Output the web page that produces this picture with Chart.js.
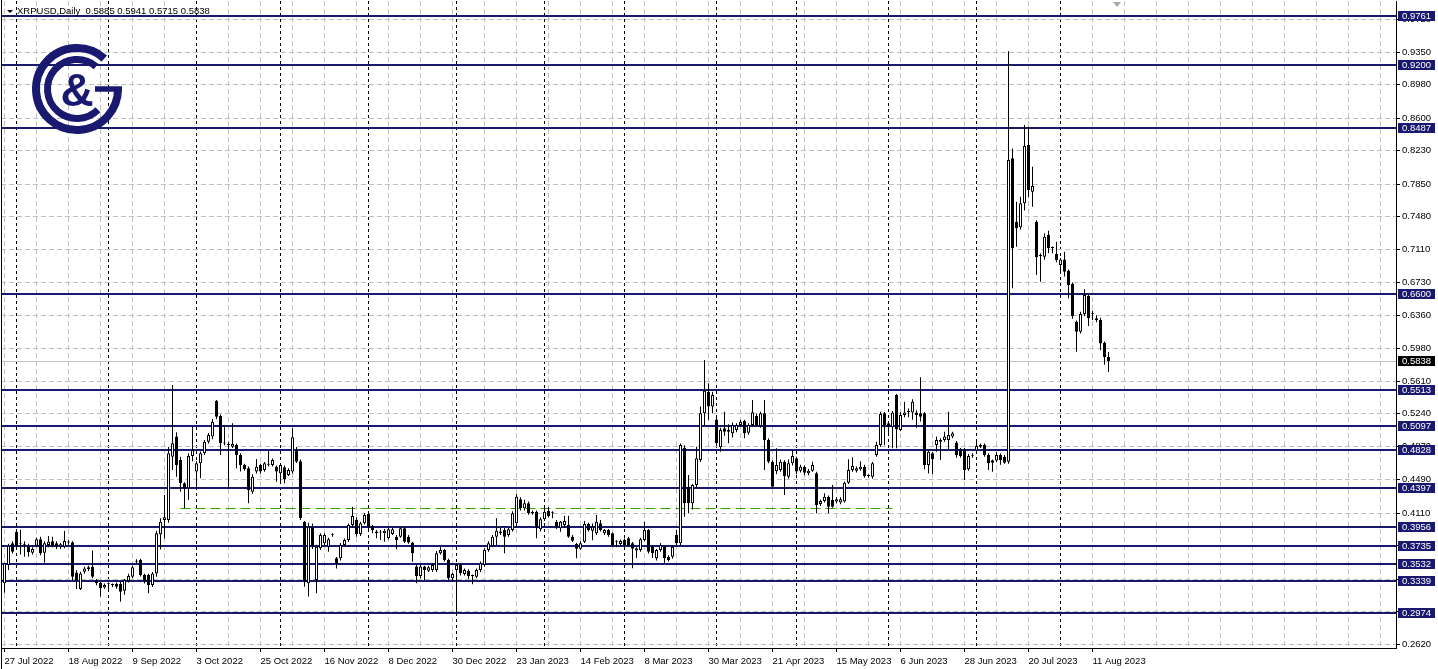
<!DOCTYPE html>
<html>
<head>
<meta charset="utf-8">
<script src="https://cdn.jsdelivr.net/npm/chart.js@4.4.0/dist/chart.umd.min.js"></script>
<style>
html,body{margin:0;padding:0;background:#fff;overflow:hidden}
#wrap{position:relative;width:1438px;height:669px;background:#fff}
</style>
</head>
<body>
<div id="wrap"><canvas id="c" width="1438" height="669"></canvas></div>
<script>
// ---------------- DATA ----------------
const symbolTitle = 'XRPUSD,Daily';
const firstBarDate = [2022, 6, 27]; // 27 Jul 2022 (daily bars, Mon-Fri)

const xTickLabels = ['27 Jul 2022','18 Aug 2022','9 Sep 2022','3 Oct 2022','25 Oct 2022','16 Nov 2022',
  '8 Dec 2022','30 Dec 2022','23 Jan 2023','14 Feb 2023','8 Mar 2023','30 Mar 2023','21 Apr 2023',
  '15 May 2023','6 Jun 2023','28 Jun 2023','20 Jul 2023','11 Aug 2023'];

const yTickValues = [0.2620,0.2990,0.3360,0.3740,0.4110,0.4490,0.4870,0.5240,0.5610,0.5980,
  0.6360,0.6730,0.7110,0.7480,0.7850,0.8230,0.8600,0.8980,0.9350,0.9720];

const levelValues = [0.9761,0.9200,0.8487,0.6600,0.5513,0.5097,0.4828,0.4397,0.3956,0.3735,0.3532,0.3339,0.2974];
const currentPrice = 0.5838;
const supportLevel = 0.4164;
const supportFromBar = 44;
const supportToBar = 222;

const opens = [
0.3311,0.3519,0.3766,0.3898,0.3760,0.3758,0.3739,0.3660,0.3739,0.3811,
0.3660,0.3747,0.3789,0.3766,0.3728,0.3728,0.3780,0.3777,0.3435,0.3246,
0.3443,0.3470,0.3500,0.3338,0.3319,0.3265,0.3300,0.3296,0.3304,0.3304,
0.3227,0.3338,0.3387,0.3560,0.3576,0.3406,0.3406,0.3292,0.3424,0.3870,
0.4031,0.4031,0.4751,0.4979,0.4713,0.4448,0.4391,0.4759,0.4581,0.4675,
0.4789,0.4922,0.4979,0.5388,0.5213,0.4910,0.4890,0.4865,0.4884,0.4770,
0.4656,0.4618,0.4353,0.4581,0.4656,0.4600,0.4664,0.4656,0.4637,0.4562,
0.4630,0.4543,0.4581,0.4827,0.4698,0.4012,0.3311,0.3955,0.3349,0.3709,
0.3766,0.3728,0.3862,0.3595,0.3595,0.3747,0.3803,0.3974,0.4031,0.3872,
0.3993,0.4100,0.3963,0.3900,0.3891,0.3880,0.3823,0.3872,0.3842,0.3842,
0.3937,0.3842,0.3774,0.3501,0.3395,0.3501,0.3455,0.3463,0.3463,0.3652,
0.3690,0.3576,0.3368,0.3463,0.3520,0.3417,0.3455,0.3395,0.3387,0.3463,
0.3520,0.3690,0.3736,0.3842,0.3880,0.3918,0.3861,0.3918,0.3993,0.4266,
0.4164,0.4221,0.4110,0.4126,0.3925,0.4039,0.4137,0.4110,0.4012,0.3936,
0.3974,0.3974,0.3842,0.3758,0.3705,0.3785,0.3986,0.3910,0.3880,0.3993,
0.3880,0.3917,0.3880,0.3785,0.3758,0.3804,0.3823,0.3766,0.3683,0.3690,
0.3804,0.3917,0.3728,0.3595,0.3690,0.3728,0.3614,0.3614,0.3860,0.3766,
0.4853,0.4410,0.4221,0.4429,0.4714,0.5244,0.5490,0.5320,0.5175,0.4857,
0.5073,0.5035,0.5016,0.5054,0.5111,0.5157,0.5024,0.5111,0.5214,0.5100,
0.5244,0.4941,0.4694,0.4586,0.4600,0.4694,0.4524,0.4675,0.4732,0.4592,
0.4637,0.4562,0.4592,0.4562,0.4213,0.4247,0.4296,0.4259,0.4240,0.4229,
0.4240,0.4455,0.4600,0.4592,0.4607,0.4637,0.4535,0.4524,0.4770,0.4884,
0.5244,0.5130,0.5085,0.5452,0.5054,0.5225,0.5263,0.5252,0.5252,0.5244,
0.5244,0.4656,0.4789,0.4884,0.4922,0.4941,0.4941,0.4979,0.4911,0.4834,
0.4834,0.4607,0.4759,0.4820,0.4865,0.4884,0.4770,0.4710,0.4707,0.4770,
0.4751,0.4694,0.8143,0.7423,0.7358,0.7631,0.8294,0.7764,0.7423,0.7037,
0.7025,0.7271,0.7128,0.7055,0.6930,0.6994,0.6865,0.6714,0.6286,0.6172,
0.6373,0.6578,0.6373,0.6324,0.6305,0.6047,0.5885];

const highs = [
0.3546,0.3760,0.3790,0.3917,0.3920,0.3790,0.3760,0.3720,0.3830,0.3840,
0.3790,0.3849,0.3841,0.3790,0.3770,0.3906,0.3800,0.3790,0.3460,0.3443,
0.3500,0.3510,0.3683,0.3360,0.3330,0.3310,0.3320,0.3310,0.3320,0.3330,
0.3360,0.3420,0.3510,0.3585,0.3590,0.3420,0.3420,0.3440,0.3910,0.4050,
0.4315,0.4860,0.5566,0.5030,0.4750,0.4460,0.4790,0.5092,0.4700,0.4810,
0.4940,0.5020,0.5180,0.5395,0.5230,0.5111,0.4920,0.5130,0.4900,0.4790,
0.4670,0.4640,0.4550,0.4725,0.4670,0.4690,0.4815,0.4730,0.4650,0.4670,
0.4650,0.4620,0.5073,0.4860,0.4720,0.4020,0.4000,0.3990,0.3750,0.3880,
0.3880,0.3830,0.3880,0.3610,0.3770,0.3820,0.3990,0.4183,0.4060,0.4010,
0.4110,0.4120,0.3975,0.3918,0.3918,0.3930,0.3940,0.3940,0.3860,0.3950,
0.3950,0.3860,0.3780,0.3520,0.3520,0.3510,0.3510,0.3540,0.3680,0.3736,
0.3700,0.3590,0.3430,0.3540,0.3530,0.3480,0.3470,0.3410,0.3480,0.3560,
0.3710,0.3790,0.3860,0.4050,0.3940,0.3940,0.3940,0.4130,0.4327,0.4290,
0.4260,0.4240,0.4140,0.4140,0.4060,0.4183,0.4180,0.4130,0.4030,0.4020,
0.4080,0.4080,0.3860,0.3770,0.3790,0.4020,0.4000,0.3990,0.4088,0.4030,
0.3930,0.3930,0.3890,0.3800,0.3810,0.3820,0.3840,0.3780,0.3720,0.3830,
0.4012,0.3930,0.3740,0.3700,0.3770,0.3740,0.3630,0.3740,0.3917,0.4900,
0.4880,0.4543,0.4440,0.4865,0.5320,0.5850,0.5585,0.5490,0.5200,0.5080,
0.5263,0.5120,0.5140,0.5130,0.5170,0.5170,0.5130,0.5396,0.5240,0.5263,
0.5396,0.4960,0.4710,0.4846,0.4720,0.4710,0.4720,0.4827,0.4750,0.4660,
0.4650,0.4610,0.4694,0.4580,0.4260,0.4334,0.4310,0.4429,0.4290,0.4290,
0.4470,0.4721,0.4744,0.4640,0.4700,0.4660,0.4550,0.4690,0.4920,0.5263,
0.5260,0.5150,0.5270,0.5464,0.5260,0.5376,0.5300,0.5403,0.5280,0.5653,
0.5260,0.4830,0.4800,0.4979,0.4960,0.5035,0.5263,0.5035,0.4930,0.4850,
0.4850,0.4780,0.4790,0.4922,0.4900,0.4900,0.4790,0.4720,0.4800,0.4790,
0.4770,0.9360,0.8256,0.7650,0.7707,0.8522,0.8503,0.8048,0.7440,0.7060,
0.7290,0.7320,0.7140,0.7195,0.7010,0.7082,0.6880,0.6730,0.6300,0.6400,
0.6653,0.6600,0.6410,0.6360,0.6330,0.6060,0.5941];

const lows = [
0.3205,0.3462,0.3650,0.3720,0.3640,0.3614,0.3614,0.3640,0.3720,0.3630,
0.3546,0.3720,0.3720,0.3700,0.3700,0.3710,0.3750,0.3350,0.3246,0.3235,
0.3420,0.3450,0.3370,0.3290,0.3160,0.3250,0.3216,0.3270,0.3250,0.3103,
0.3180,0.3320,0.3370,0.3530,0.3390,0.3310,0.3197,0.3270,0.3387,0.3697,
0.3822,0.4000,0.4600,0.4524,0.4353,0.4164,0.4258,0.4700,0.4391,0.4505,
0.4770,0.4900,0.4950,0.5180,0.4770,0.4880,0.4391,0.4850,0.4618,0.4581,
0.4590,0.4221,0.4330,0.4560,0.4560,0.4580,0.4640,0.4640,0.4467,0.4448,
0.4448,0.4530,0.4560,0.4680,0.4031,0.3273,0.3160,0.3700,0.3197,0.3690,
0.3740,0.3671,0.3840,0.3481,0.3570,0.3730,0.3780,0.3950,0.3840,0.3850,
0.3980,0.3930,0.3880,0.3823,0.3804,0.3785,0.3810,0.3860,0.3698,0.3830,
0.3770,0.3760,0.3557,0.3311,0.3370,0.3349,0.3440,0.3440,0.3440,0.3640,
0.3560,0.3349,0.3330,0.2962,0.3400,0.3400,0.3360,0.3300,0.3370,0.3440,
0.3500,0.3670,0.3720,0.3747,0.3860,0.3652,0.3840,0.3900,0.3950,0.4140,
0.4140,0.4090,0.4090,0.3823,0.3900,0.4020,0.4060,0.4050,0.3930,0.3898,
0.3950,0.3830,0.3780,0.3595,0.3690,0.3770,0.3900,0.3800,0.3860,0.3900,
0.3860,0.3840,0.3730,0.3720,0.3740,0.3730,0.3730,0.3482,0.3600,0.3670,
0.3790,0.3650,0.3600,0.3570,0.3670,0.3538,0.3560,0.3590,0.3740,0.3740,
0.4069,0.4107,0.4150,0.4400,0.4690,0.5100,0.5168,0.5244,0.4880,0.4808,
0.4990,0.4903,0.4970,0.5030,0.5090,0.4960,0.5000,0.5090,0.5090,0.5080,
0.4600,0.4675,0.4390,0.4550,0.4580,0.4315,0.4500,0.4650,0.4550,0.4570,
0.4540,0.4540,0.4580,0.4107,0.4190,0.4230,0.4107,0.4170,0.4220,0.4210,
0.4230,0.4440,0.4580,0.4570,0.4590,0.4510,0.4510,0.4500,0.4750,0.4865,
0.4880,0.4990,0.4846,0.4846,0.5040,0.5200,0.5200,0.5170,0.5080,0.5150,
0.4607,0.4560,0.4555,0.4808,0.4713,0.4920,0.4827,0.4960,0.4740,0.4740,
0.4486,0.4590,0.4740,0.4800,0.4850,0.4750,0.4600,0.4580,0.4690,0.4660,
0.4670,0.4670,0.6665,0.7139,0.7330,0.7550,0.7700,0.7593,0.6816,0.6740,
0.6990,0.7063,0.7063,0.6960,0.6835,0.6800,0.6551,0.6320,0.5945,0.6150,
0.6350,0.6237,0.6305,0.6280,0.5960,0.5795,0.5715];

const closes = [
0.3538,0.3739,0.3671,0.3739,0.3754,0.3750,0.3664,0.3700,0.3811,0.3652,
0.3766,0.3785,0.3743,0.3728,0.3754,0.3792,0.3775,0.3387,0.3349,0.3424,
0.3481,0.3493,0.3387,0.3311,0.3254,0.3292,0.3304,0.3292,0.3273,0.3216,
0.3349,0.3395,0.3493,0.3555,0.3406,0.3330,0.3292,0.3424,0.3880,0.4012,
0.4061,0.4789,0.4903,0.4656,0.4448,0.4391,0.4759,0.4827,0.4675,0.4789,
0.4922,0.4998,0.5149,0.5206,0.4903,0.4900,0.4884,0.4896,0.4770,0.4656,
0.4607,0.4372,0.4524,0.4637,0.4581,0.4675,0.4660,0.4713,0.4581,0.4656,
0.4493,0.4600,0.4971,0.4694,0.4050,0.3330,0.3955,0.3728,0.3728,0.3860,
0.3860,0.3811,0.3858,0.3538,0.3747,0.3803,0.3974,0.4076,0.3872,0.3993,
0.4088,0.3948,0.3918,0.3880,0.3888,0.3910,0.3925,0.3925,0.3804,0.3937,
0.3785,0.3774,0.3652,0.3395,0.3501,0.3463,0.3493,0.3520,0.3652,0.3690,
0.3576,0.3368,0.3417,0.3520,0.3425,0.3463,0.3395,0.3398,0.3463,0.3539,
0.3690,0.3766,0.3842,0.3910,0.3899,0.3842,0.3925,0.4107,0.4296,0.4164,
0.4221,0.4107,0.4125,0.3937,0.4039,0.4126,0.4077,0.4107,0.3955,0.4012,
0.4020,0.3842,0.3796,0.3705,0.3766,0.3986,0.3917,0.3955,0.4012,0.3917,
0.3917,0.3860,0.3747,0.3783,0.3792,0.3747,0.3747,0.3705,0.3709,0.3811,
0.3917,0.3671,0.3652,0.3690,0.3747,0.3595,0.3576,0.3728,0.3766,0.4884,
0.4221,0.4221,0.4429,0.4732,0.5244,0.5501,0.5320,0.5452,0.4903,0.5054,
0.5035,0.5054,0.5111,0.5111,0.5149,0.5016,0.5111,0.5255,0.5111,0.5244,
0.4941,0.4694,0.4410,0.4656,0.4694,0.4531,0.4675,0.4759,0.4581,0.4637,
0.4569,0.4592,0.4656,0.4202,0.4247,0.4296,0.4183,0.4183,0.4266,0.4266,
0.4455,0.4600,0.4645,0.4619,0.4637,0.4531,0.4531,0.4675,0.4884,0.5236,
0.5111,0.5085,0.5252,0.5062,0.5225,0.5252,0.5260,0.5376,0.5225,0.5206,
0.4656,0.4808,0.4721,0.4941,0.4941,0.4979,0.4998,0.5016,0.4770,0.4759,
0.4600,0.4759,0.4756,0.4872,0.4884,0.4770,0.4675,0.4683,0.4770,0.4713,
0.4683,0.8124,0.7120,0.7347,0.7631,0.8283,0.7783,0.7828,0.7017,0.7033,
0.7252,0.7120,0.7124,0.6987,0.6994,0.6854,0.6703,0.6350,0.6172,0.6373,
0.6589,0.6324,0.6369,0.6305,0.6039,0.5885,0.5838];

// ---------------- STYLE ----------------
const NAVY = '#191970';
const GRID_GRAY = '#c0c0c0';

function fontAvailable(name) {
  const c = document.createElement('canvas').getContext('2d');
  const s = '0.9350 18 Aug 2022';
  c.font = '40px monospace'; const a = c.measureText(s).width;
  c.font = '40px "' + name + '", monospace'; const b = c.measureText(s).width;
  return a !== b;
}
const NARROW = fontAvailable('Liberation Sans Narrow');
const FONT_FAMILY = NARROW ? '"Liberation Sans Narrow", "Liberation Sans", sans-serif' : '"Liberation Sans", Arial, sans-serif';
const FONT_SIZE = NARROW ? 11 : 9.5;
const FONT_CSS = FONT_SIZE + 'px ' + FONT_FAMILY;

// bar calendar (weekdays) -> month separators
const barDates = [];
(function () {
  const d = new Date(Date.UTC(firstBarDate[0], firstBarDate[1], firstBarDate[2]));
  while (barDates.length < opens.length) {
    const wd = d.getUTCDay();
    if (wd !== 0 && wd !== 6) barDates.push(new Date(d.getTime()));
    d.setUTCDate(d.getUTCDate() + 1);
  }
})();
const monthStarts = [];
for (let i = 1; i < barDates.length; i++) {
  if (barDates[i].getUTCMonth() !== barDates[i - 1].getUTCMonth()) monthStarts.push(i);
}
const monthSet = new Set(monthStarts);
const gridBars = [];
for (let k = 0; k * 8 <= 346; k++) gridBars.push(k * 8);
const xTickValues = Array.from(new Set(gridBars.concat(monthStarts))).sort((a, b) => a - b);

function isLabelTick(v) { return v % 16 === 0 && v / 16 < xTickLabels.length; }

const wickData = highs.map((h, i) => ({ x: i, y: [lows[i], h] }));
const bodyData = opens.map((o, i) => ({ x: i, y: [o, closes[i]] }));

const bgPlugin = {
  id: 'bgLayer',
  beforeDatasetsDraw(chart) {
    const { ctx, chartArea: a, scales: { x, y } } = chart;
    ctx.save();
    const yc = Math.round(y.getPixelForValue(currentPrice)) + 0.5;
    ctx.strokeStyle = '#c0c0c0'; ctx.lineWidth = 1;
    ctx.beginPath(); ctx.moveTo(a.left, yc); ctx.lineTo(a.right, yc); ctx.stroke();
    ctx.fillStyle = NAVY;
    levelValues.forEach(v => {
      const py = Math.round(y.getPixelForValue(v));
      ctx.fillRect(a.left, py - 1, a.right - a.left, 2);
    });
    const sy = Math.round(y.getPixelForValue(supportLevel)) + 0.5;
    ctx.strokeStyle = '#32a000'; ctx.lineWidth = 1; ctx.setLineDash([10, 5]);
    ctx.beginPath();
    ctx.moveTo(x.getPixelForValue(supportFromBar), sy);
    ctx.lineTo(x.getPixelForValue(supportToBar), sy);
    ctx.stroke();
    ctx.restore();
  }
};

function drawLogo(ctx) {
  const cx = 77, cy = 89;
  ctx.save();
  ctx.strokeStyle = NAVY; ctx.fillStyle = NAVY; ctx.lineCap = 'butt';
  ctx.lineWidth = 8;
  ctx.beginPath(); ctx.arc(cx, cy, 41, -0.84, 0, true); ctx.stroke();
  ctx.lineWidth = 5.5;
  ctx.beginPath(); ctx.moveTo(cx + 45, cy); ctx.lineTo(cx + 18, cy); ctx.stroke();
  ctx.lineWidth = 7;
  ctx.beginPath(); ctx.arc(cx, cy, 29.5, -0.87, 0.78, true); ctx.stroke();
  ctx.font = 'bold 46px "Liberation Sans", sans-serif';
  ctx.textAlign = 'center'; ctx.textBaseline = 'middle';
  ctx.fillText('&', cx, cy + 4);
  ctx.restore();
}

const fgPlugin = {
  id: 'fgLayer',
  afterDraw(chart) {
    const { ctx, chartArea: a, scales: { y } } = chart;
    ctx.save();
    ctx.font = FONT_CSS; ctx.textBaseline = 'middle'; ctx.textAlign = 'left';
    const boxX = a.right + 2, boxW = 37;
    const drawBox = (v, bg) => {
      const py = Math.round(y.getPixelForValue(v));
      ctx.fillStyle = bg;
      ctx.fillRect(boxX, py - 5, boxW, 10);
      ctx.fillStyle = '#fff';
      ctx.fillText(v.toFixed(4), boxX + 4, py);
    };
    levelValues.forEach(v => drawBox(v, NAVY));
    drawBox(currentPrice, '#000');

    const last = opens.length - 1;
    ctx.fillStyle = '#000';
    ctx.beginPath(); ctx.moveTo(7, 10); ctx.lineTo(13, 10); ctx.lineTo(10, 13); ctx.closePath(); ctx.fill();
    ctx.textBaseline = 'alphabetic';
    ctx.fillText(symbolTitle + '  ' + [opens[last], highs[last], lows[last], closes[last]].map(v => v.toFixed(4)).join(' '), 17, 14);

    ctx.fillStyle = '#a8a8a8';
    ctx.beginPath(); ctx.moveTo(1113, 2); ctx.lineTo(1121, 2); ctx.lineTo(1117, 7); ctx.closePath(); ctx.fill();

    ctx.fillStyle = '#000';
    ctx.fillRect(1, 0, 1, 669);
    ctx.restore();

    drawLogo(ctx);
  }
};

new Chart(document.getElementById('c').getContext('2d'), {
  type: 'bar',
  data: {
    datasets: [
      { label: 'wick', data: wickData, backgroundColor: '#000', borderWidth: 0,
        barThickness: 1, grouped: false, order: 2, inflateAmount: 0 },
      { label: 'body', data: bodyData,
        backgroundColor: c => (closes[c.dataIndex] >= opens[c.dataIndex] ? '#ffffff' : '#000000'),
        borderColor: '#000', borderWidth: 1, borderSkipped: false,
        barThickness: 3, grouped: false, order: 1, minBarLength: 1, inflateAmount: 0 }
    ]
  },
  options: {
    responsive: false,
    animation: false,
    devicePixelRatio: 1,
    layout: { padding: { left: 1, top: 1, right: 0, bottom: 0 } },
    plugins: { legend: { display: false }, tooltip: { enabled: false }, title: { display: false } },
    scales: {
      x: {
        type: 'linear', min: -0.875, max: 347.875, offset: false,
        afterBuildTicks: s => { s.ticks = xTickValues.map(v => ({ value: v })); },
        afterFit: s => { s.height = 21; s.paddingLeft = 0; s.paddingRight = 0; },
        ticks: {
          autoSkip: false, maxRotation: 0, minRotation: 0, align: 'start', padding: 4,
          color: '#000', font: { family: FONT_FAMILY, size: FONT_SIZE },
          callback: v => (isLabelTick(v) ? xTickLabels[v / 16] : '')
        },
        grid: {
          offset: false, lineWidth: 1, drawTicks: true, tickLength: 4,
          color: c => (c.tick && monthSet.has(c.tick.value)) ? '#000' : GRID_GRAY,
          tickColor: c => (c.tick && isLabelTick(c.tick.value)) ? '#000' : 'rgba(0,0,0,0)'
        },
        border: {
          display: true, color: '#000', width: 1,
          dash: c => (c.tick && monthSet.has(c.tick.value)) ? [3, 3] : [5, 3]
        }
      },
      y: {
        type: 'linear', position: 'right', min: 0.25758, max: 0.99315,
        afterBuildTicks: s => { s.ticks = yTickValues.map(v => ({ value: v })); },
        afterFit: s => { s.width = 42; s.paddingTop = 0; s.paddingBottom = 0; },
        ticks: {
          autoSkip: false, padding: 2, color: '#000',
          font: { family: FONT_FAMILY, size: FONT_SIZE },
          callback: v => Number(v).toFixed(4)
        },
        grid: { color: GRID_GRAY, lineWidth: 1, tickLength: 4, tickColor: '#000' },
        border: { display: true, color: '#000', width: 1, dash: [5, 3] }
      }
    }
  },
  plugins: [bgPlugin, fgPlugin]
});
</script>
</body>
</html>
